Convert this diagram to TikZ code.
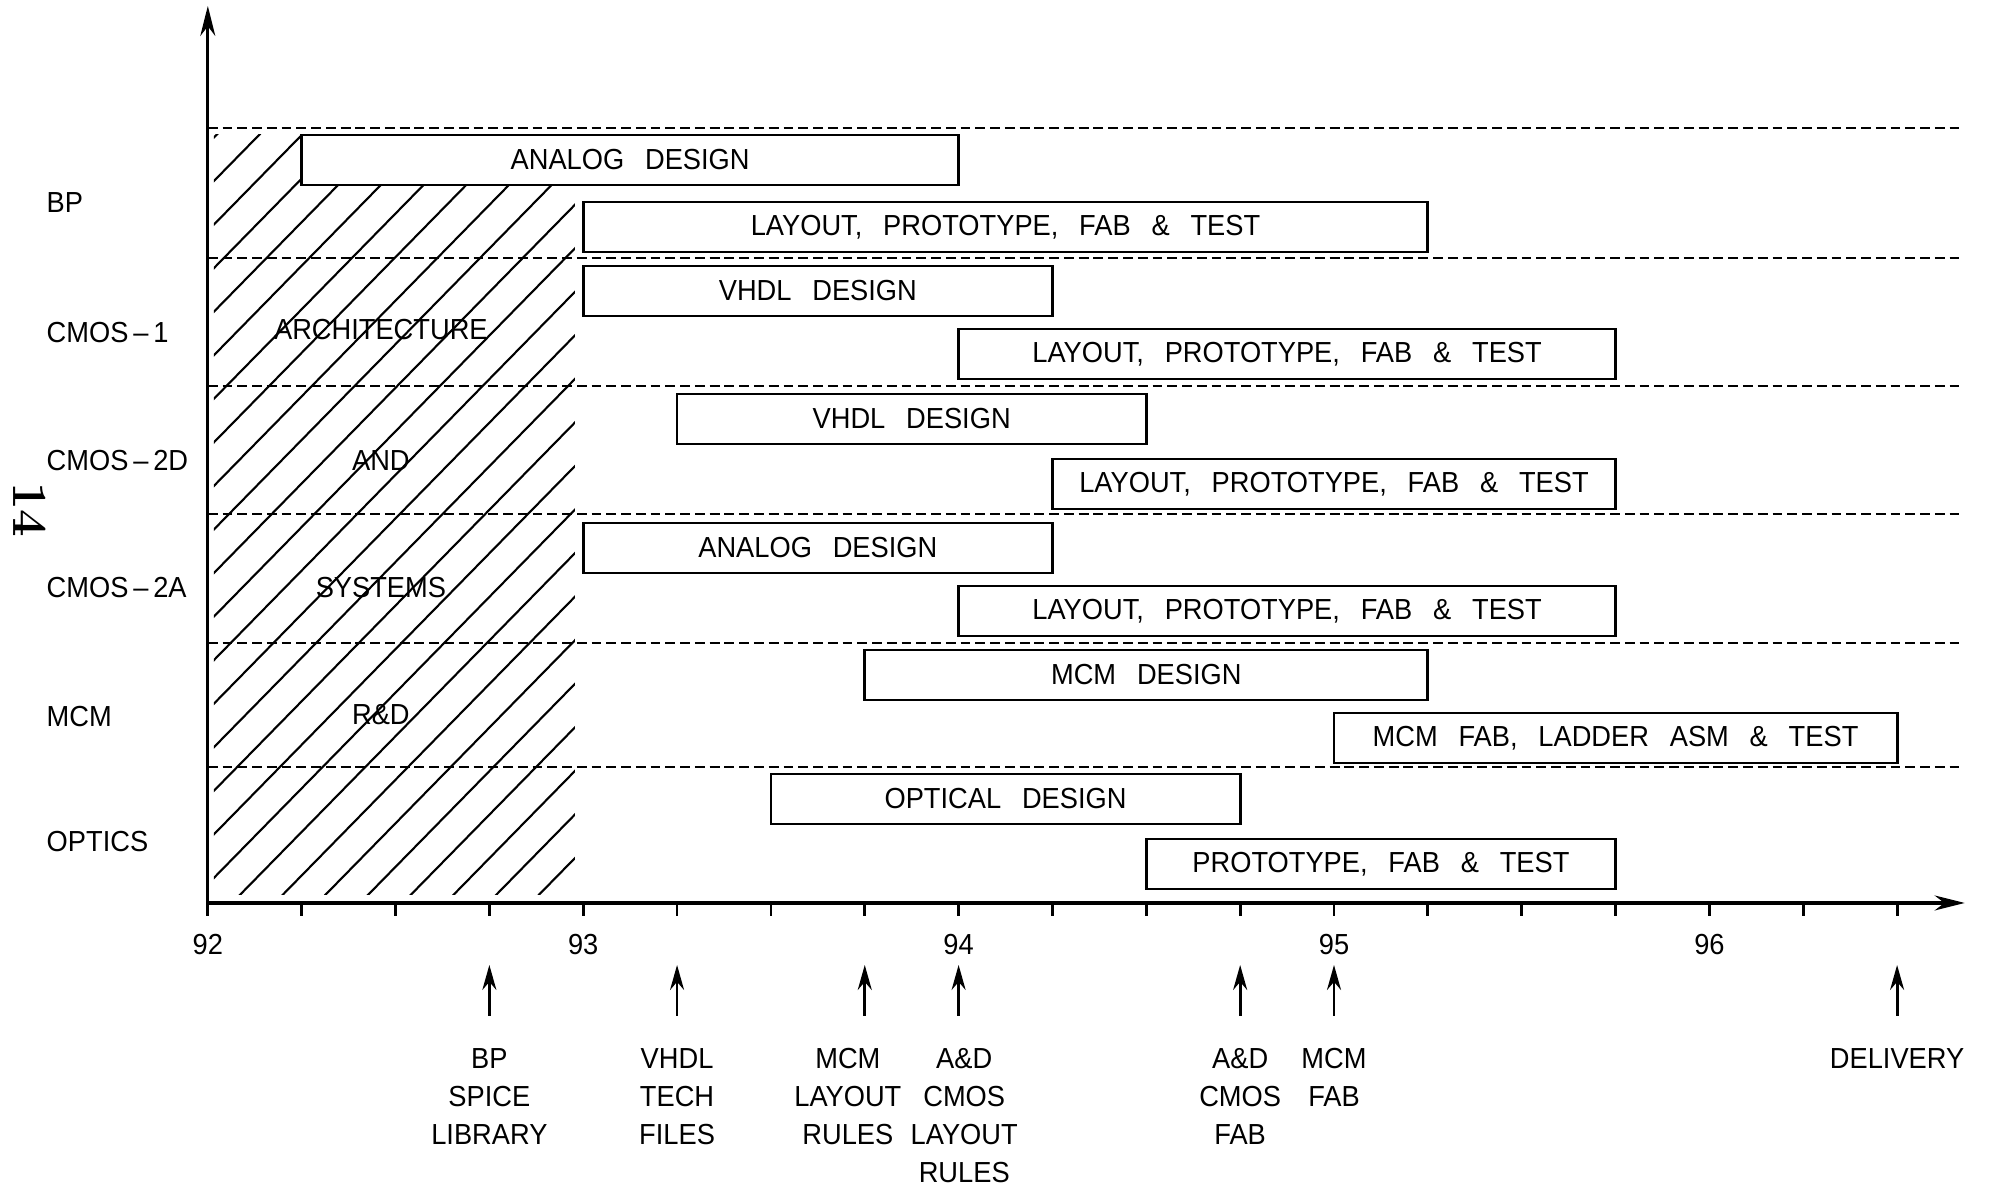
\documentclass[tikz,border=0pt]{standalone}
\usepackage{fontspec}
\newfontfamily\plotfont{Liberation Sans}[FakeStretch=0.94,WordSpace=2.75]
\usetikzlibrary{arrows.meta}

\begin{document}
\begin{tikzpicture}[x=3.754cm, y=1cm,
    every node/.style={font=\plotfont\fontsize{8.25}{10.8}\selectfont, inner sep=0pt},
    bar/.style={draw, fill=white, line width=0.8pt, minimum height=0.5cm},
    rowlabel/.style={anchor=west},
    gap/.style={dash pattern=on 2.8pt off 1.4pt, line width=0.6pt},
    hatch/.style={line width=0.6pt},
    axis/.style={line width=0.9pt, -{Stealth[length=3mm,width=1.5mm]}},
    milestone/.style={line width=0.8pt, -{Stealth[length=2.5mm,width=1.4mm]}},
    note/.style={anchor=north, align=center}]
  \useasboundingbox (-0.5536,-2.87) rectangle (4.7528,9.03);

  % architecture and systems r&d hatching
  \begin{scope}[x=1cm]
    \clip (0.06,0.08) rectangle (3.67,7.68);
    \foreach \k in {-19,...,8}
      \draw[hatch] ({0.242+0.427*\k},0) -- ++(8,8.16);
  \end{scope}
  \node (arch) at (0.461,5.73) {ARCHITECTURE};
  \node (and) at (0.461,4.42) {AND};
  \node (systems) at (0.461,3.15) {SYSTEMS};
  \node (rnd) at (0.461,1.88) {R\&D};

  % row separators
  \foreach \y in {7.75,6.45,5.17,3.89,2.60,1.36}
    \draw[gap] (0,\y) -- (4.665,\y);

  % axes with quarter ticks
  \draw[axis] (0,-0.13) -- (0,8.97);
  \draw[axis] (0,0) -- (4.68,0);
  \foreach \q in {0.25,0.5,...,4.5}
    \draw[line width=0.8pt] (\q,0) -- (\q,-0.13);
  \foreach \yr in {92,...,96}
    \node (y\yr) at (\yr-92,-0.42) {\yr};

  % rows
  \node[rowlabel] (bp) at (-0.431,7.00) {BP};
  \node[rowlabel] (cmosone) at (-0.431,5.70) {CMOS\,–\,1};
  \node[rowlabel] (cmostwod) at (-0.431,4.42) {CMOS\,–\,2D};
  \node[rowlabel] (cmostwoa) at (-0.431,3.15) {CMOS\,–\,2A};
  \node[rowlabel] (mcm) at (-0.431,1.86) {MCM};
  \node[rowlabel] (optics) at (-0.431,0.61) {OPTICS};

  % task bars: start/end (years after 92), centre height
  \foreach \s/\e/\y/\n/\t in {
      0.25/2/7.43/bpana/{ANALOG DESIGN},
      1/3.25/6.76/bplay/{LAYOUT, PROTOTYPE, FAB \& TEST},
      1/2.25/6.12/onevhdl/{VHDL DESIGN},
      2/3.75/5.49/onelay/{LAYOUT, PROTOTYPE, FAB \& TEST},
      1.25/2.5/4.84/dvhdl/{VHDL DESIGN},
      2.25/3.75/4.19/dlay/{LAYOUT, PROTOTYPE, FAB \& TEST},
      1/2.25/3.55/aana/{ANALOG DESIGN},
      2/3.75/2.92/alay/{LAYOUT, PROTOTYPE, FAB \& TEST},
      1.75/3.25/2.28/mcmdes/{MCM DESIGN},
      3/4.5/1.65/mcmfab/{MCM FAB, LADDER ASM \& TEST},
      1.5/2.75/1.04/optdes/{OPTICAL DESIGN},
      2.5/3.75/0.39/optfab/{PROTOTYPE, FAB \& TEST}}
    \node[bar, minimum width={(\e-\s)*3.754cm}] (\n) at ({(\s+\e)/2},\y) {\t};

  % milestones
  \foreach \x/\l/\n/\t in {
      0.75/0.75/bpspice/{BP\\SPICE\\LIBRARY},
      1.25/1.25/vhdltech/{VHDL\\TECH\\FILES},
      1.75/1.705/mcmrules/{MCM\\LAYOUT\\RULES},
      2/2.015/adrules/{A\&D\\CMOS\\LAYOUT\\RULES},
      2.75/2.75/adfab/{A\&D\\CMOS\\FAB},
      3/3/mcmfabm/{MCM\\FAB},
      4.5/4.5/delivery/{DELIVERY}} {
    \coordinate (\n-tail) at (\x,-1.13);
    \coordinate (\n-tip) at (\x,-0.62);
    \draw[milestone] (\n-tail) -- (\n-tip);
    \node[note] (\n) at (\l,-1.45) {\t};
  }

  % page number
  \node[rotate=-90, font=\normalfont\bfseries\fontsize{14}{14}\selectfont] (pagenum) at (-0.474,3.93) {14};
\end{tikzpicture}
\end{document}
